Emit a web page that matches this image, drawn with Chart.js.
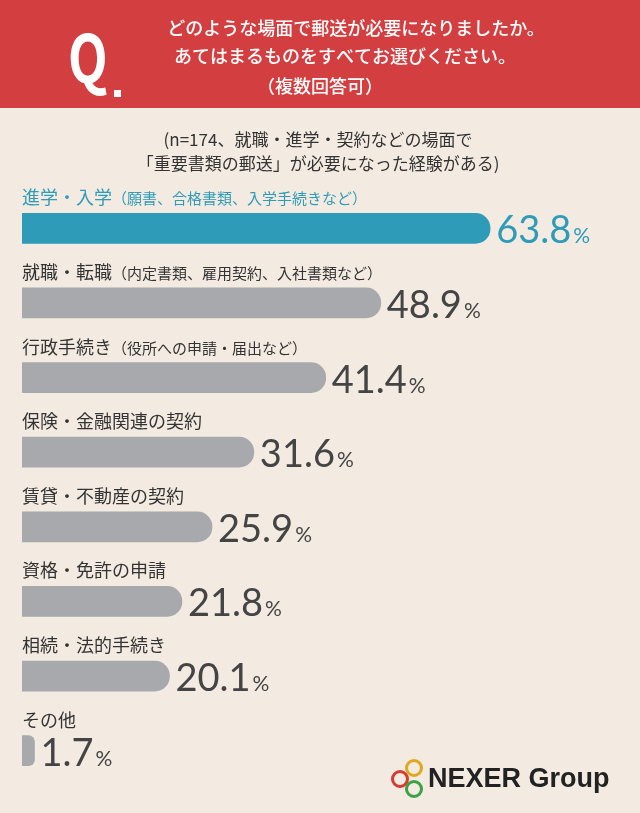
<!DOCTYPE html>
<html><head><meta charset="utf-8">
<script src="https://cdn.jsdelivr.net/npm/chart.js@4"></script>
<style>html,body{margin:0;padding:0;background:#f3ebe1}#wrap{width:640px;height:813px;position:relative}</style>
</head><body><div id="wrap"><canvas id="c"></canvas></div>
<script>
const labels = ['進学・入学', '就職・転職', '行政手続き', '保険・金融関連の契約', '賃貸・不動産の契約', '資格・免許の申請', '相続・法的手続き', 'その他'];
const notes = ['（願書、合格書類、入学手続きなど）', '（内定書類、雇用契約、入社書類など）', '（役所への申請・届出など）', '', '', '', '', ''];
const values = [63.8, 48.9, 41.4, 31.6, 25.9, 21.8, 20.1, 1.7];

const F = '"Noto Sans CJK JP", "Noto Sans", sans-serif';
const BLUE = '#2e9bb8';

const deco = {
  id: 'deco',
  beforeDraw(chart) {
    const c = chart.ctx;
    c.save();
    c.fillStyle = '#f3ebe1'; c.fillRect(0, 0, 640, 813);
    c.fillStyle = '#d33f40'; c.fillRect(0, 0, 640, 108);
    c.fillStyle = '#fff';
    c.save();
    c.translate(68, 58); c.scale(0.78, 1);
    c.font = 'bold 66px ' + F; c.textBaseline = 'middle'; c.textAlign = 'left';
    c.fillText('Q', 0, 0);
    c.restore();
    c.fillRect(114, 90, 7, 7);
    c.font = '500 18px ' + F; c.textAlign = 'center'; c.textBaseline = 'middle';
    c.fillText('どのような場面で郵送が必要になりましたか。', 356, 28);
    c.fillText('あてはまるものをすべてお選びください。', 345, 56);
    c.fillText('（複数回答可）', 320, 86);
    c.fillStyle = '#333'; c.font = '17px ' + F;
    c.fillText('(n=174、就職・進学・契約などの場面で', 318, 140);
    c.fillText('「重要書類の郵送」が必要になった経験がある)', 318, 164);
    // logo
    c.lineWidth = 3;
    [['#e0a81c', 414, 768], ['#d63a32', 400, 779], ['#3aa244', 414, 789]].forEach(([col, x, y]) => {
      c.strokeStyle = col; c.beginPath(); c.arc(x, y, 7.5, 0, Math.PI * 2); c.stroke();
    });
    c.fillStyle = '#222'; c.font = 'bold 27px "Liberation Sans", sans-serif'; c.textAlign = 'left';
    c.fillText('NEXER Group', 428, 780);
    c.restore();
  },
  afterDatasetsDraw(chart) {
    const c = chart.ctx;
    const meta = chart.getDatasetMeta(0);
    c.save();
    c.textBaseline = 'alphabetic'; c.textAlign = 'left';
    meta.data.forEach((bar, i) => {
      c.fillStyle = i === 0 ? BLUE : '#333';
      c.font = '18px ' + F;
      c.fillText(labels[i], 22, bar.y - 24);
      const w = c.measureText(labels[i]).width;
      c.font = '15px ' + F;
      c.fillText(notes[i], 22 + w, bar.y - 24);
      c.fillStyle = i === 0 ? BLUE : '#444';
      c.font = '38px Lato, sans-serif';
      const v = values[i].toFixed(1);
      const x = bar.x + 6;
      c.fillText(v, x, bar.y + 15);
      const vw = c.measureText(v).width;
      c.font = '21px Lato, sans-serif';
      c.fillText('%', x + vw + 2, bar.y + 15);
    });
    c.restore();
  }
};

new Chart(document.getElementById('c'), {
  type: 'bar',
  data: {
    labels: labels,
    datasets: [{
      data: values,
      backgroundColor: values.map((v, i) => i === 0 ? BLUE : '#a8a9ac'),
      barThickness: 30,
      borderRadius: { topRight: 15, bottomRight: 15 },
      borderSkipped: false
    }]
  },
  options: {
    indexAxis: 'y',
    responsive: true,
    maintainAspectRatio: false,
    animation: false,
    layout: { padding: { left: 22, right: 31, top: 191, bottom: 25 } },
    scales: {
      x: { min: 0, max: 80, display: false },
      y: { display: false }
    },
    plugins: { legend: { display: false }, tooltip: { enabled: false } }
  },
  plugins: [deco]
});
</script></body></html>
